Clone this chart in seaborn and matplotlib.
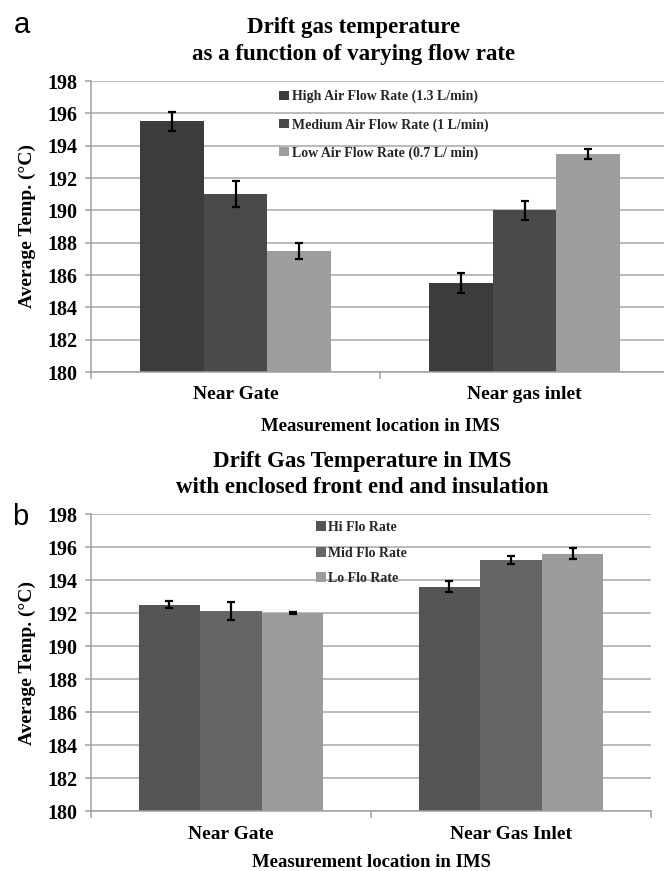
import matplotlib
matplotlib.use("Agg")
import matplotlib.pyplot as plt
import numpy as np
import pandas as pd
import seaborn as sns
from matplotlib.patches import Patch

# ---------------- data ----------------
locations_a = ["Near Gate", "Near gas inlet"]
series_a = ["High Air Flow Rate (1.3 L/min)",
            "Medium Air Flow Rate (1 L/min)",
            "Low Air Flow Rate (0.7 L/ min)"]
high_a = [195.5, 185.5]
medium_a = [191.0, 190.0]
low_a = [187.5, 193.5]
high_a_err = [0.6, 0.6]
medium_a_err = [0.8, 0.6]
low_a_err = [0.5, 0.3]

locations_b = ["Near Gate", "Near Gas Inlet"]
series_b = ["Hi Flo Rate", "Mid Flo Rate", "Lo Flo Rate"]
hi_b = [192.5, 193.6]
mid_b = [192.1, 195.2]
lo_b = [192.0, 195.6]
hi_b_err = [0.2, 0.35]
mid_b_err = [0.55, 0.25]
lo_b_err = [0.05, 0.33]

yticks = [180, 182, 184, 186, 188, 190, 192, 194, 196, 198]

colors_a = ["#3c3c3c", "#4a4a4a", "#9e9e9e"]
colors_b = ["#555555", "#666666", "#9c9c9c"]

# ---------------- style ----------------
sns.set_theme(style="white")
plt.rcParams["font.family"] = ["Liberation Serif", "DejaVu Serif"]
plt.rcParams["font.weight"] = "bold"
plt.rcParams["axes.labelweight"] = "bold"

W, H = 664, 871
fig = plt.figure(figsize=(W / 100, H / 100), dpi=100)
fig.patch.set_facecolor("white")


def fx(px):
    return px / W


def fy(py):
    return 1 - py / H


def make_df(locs, series, vals):
    rows = []
    for s, v in zip(series, vals):
        for loc, val in zip(locs, v):
            rows.append({"loc": loc, "series": s, "temp": val})
    return pd.DataFrame(rows)


def draw_panel(ax, locs, series, vals, errs, colors, legend_anchor, labelspacing,
               tick_pad, label_pad):
    df = make_df(locs, series, vals)
    sns.barplot(data=df, x="loc", y="temp", hue="series", order=locs,
                hue_order=series, palette=colors, width=0.66, gap=0,
                errorbar=None, saturation=1, legend=False, ax=ax,
                linewidth=0)
    bar_conts = list(ax.containers)
    for i, cont in enumerate(bar_conts):
        xs = [b.get_x() + b.get_width() / 2 for b in cont]
        ys = [b.get_height() for b in cont]
        ax.errorbar(xs, ys, yerr=errs[i], fmt="none", ecolor="black",
                    elinewidth=1.6, capsize=3.2, capthick=1.6, zorder=5)
    ax.set_ylim(180, 198)
    ax.set_xlim(-0.5, 1.5)
    ax.set_yticks(yticks)
    ax.set_yticklabels([str(t) for t in yticks], fontsize=14.5,
                       fontweight="bold", color="black")
    ax.yaxis.grid(True, color="#a8a8a8", linewidth=1.1)
    ax.set_axisbelow(True)
    for s in ["top", "right"]:
        ax.spines[s].set_visible(False)
    for s in ["left", "bottom"]:
        ax.spines[s].set_color("#a0a0a0")
        ax.spines[s].set_linewidth(1.1)
    ax.tick_params(axis="y", length=4, width=1.1, color="#a0a0a0",
                   left=True, pad=6)
    ax.set_xticks([0, 1])
    ax.set_xticklabels(locs, fontsize=14, fontweight="bold", color="black")
    ax.set_xticks([-0.5, 0.5, 1.5], minor=True)
    ax.tick_params(axis="x", which="major", length=0, pad=tick_pad)
    ax.tick_params(axis="x", which="minor", length=5, width=1.1,
                   color="#a0a0a0", bottom=True)
    ax.set_xlabel("Measurement location in IMS", fontsize=13.5,
                  fontweight="bold", color="black", labelpad=label_pad)
    ax.set_ylabel("Average Temp. (°C)", fontsize=14, fontweight="bold",
                  color="black", labelpad=8)
    handles = [Patch(facecolor=c, edgecolor="none") for c in colors]
    fig.legend(handles, series, loc="upper left",
               bbox_to_anchor=legend_anchor, frameon=False,
               prop={"family": ["Liberation Serif"], "weight": "bold",
                     "size": 10},
               handlelength=0.7, handleheight=0.7, handletextpad=0.2,
               labelspacing=labelspacing, borderpad=0, borderaxespad=0)


# ---------------- panel a ----------------
ax1 = fig.add_axes([fx(91), fy(372), fx(669 - 91), (372 - 81) / H])
draw_panel(ax1, locations_a, series_a, [high_a, medium_a, low_a],
           [high_a_err, medium_a_err, low_a_err], colors_a,
           (fx(279), fy(90)), 1.05, 10, 11)

# ---------------- panel b ----------------
ax2 = fig.add_axes([fx(91), fy(811), fx(651 - 91), (811 - 514) / H])
draw_panel(ax2, locations_b, series_b, [hi_b, mid_b, lo_b],
           [hi_b_err, mid_b_err, lo_b_err], colors_b,
           (fx(316), fy(521)), 0.9, 11, 8)

# ---------------- titles ----------------
tkw = dict(fontsize=16.5, fontweight="bold", ha="center", va="baseline",
           color="black")
fig.text(fx(354), fy(33), "Drift gas temperature", **tkw)
fig.text(fx(354), fy(60), "as a function of varying flow rate", **tkw)
fig.text(fx(362), fy(467), "Drift Gas Temperature in IMS", **tkw)
fig.text(fx(362), fy(493), "with enclosed front end and insulation", **tkw)

pkw = dict(fontsize=21, fontweight="normal", ha="left", va="baseline",
           family=["Liberation Sans", "DejaVu Sans"], color="black")
fig.text(fx(14), fy(33), "a", **pkw)
fig.text(fx(12), fy(525), "b", **pkw)

fig.savefig("out.png", dpi=100, facecolor="white")
